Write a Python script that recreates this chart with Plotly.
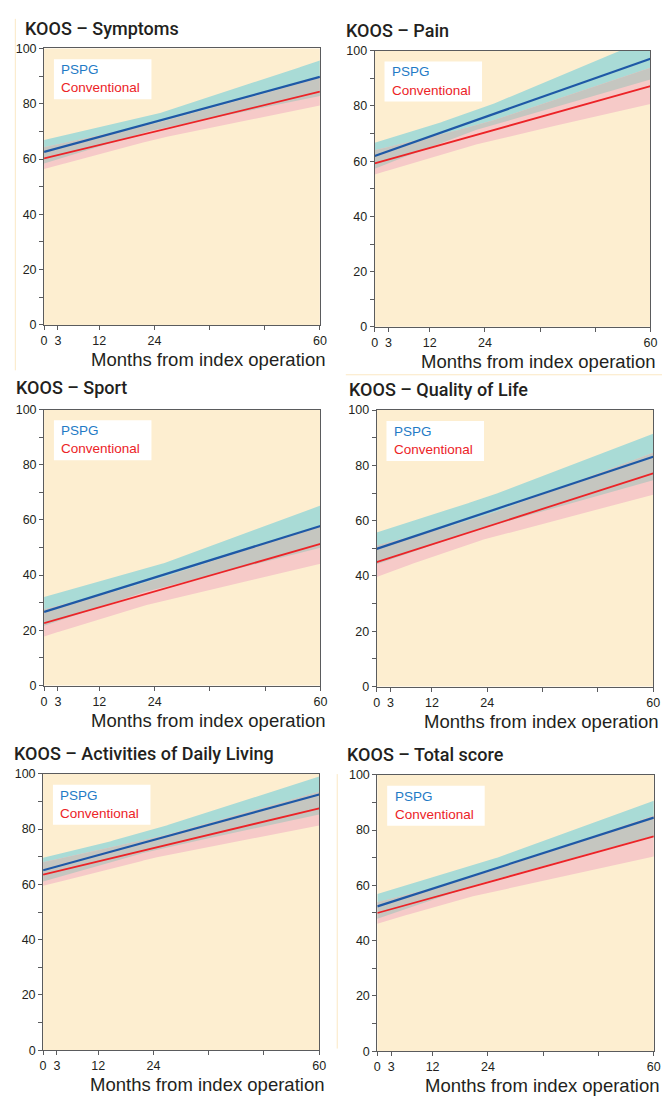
import numpy as np
import plotly.graph_objects as go

W, H = 669, 1098

# ---------------- data ----------------
panel_titles = ["KOOS – Symptoms", "KOOS – Pain", "KOOS – Sport",
                "KOOS – Quality of Life", "KOOS – Activities of Daily Living",
                "KOOS – Total score"]
series_names = ["PSPG", "Conventional"]
x_title = "Months from index operation"

months_line = [0, 60]
months_band = [0, 12, 24, 60]
x_tickvals = [0, 3, 12, 24, 36, 48, 60]
x_ticktext = ["0", "3", "12", "24", "", "", "60"]
y_tickvals = [0, 20, 40, 60, 80, 100]

# Symptoms
symptoms_pspg = [62.6, 89.7]
symptoms_pspg_lo = [58.4, 64.6, 70.6, 82.8]
symptoms_pspg_hi = [66.9, 71.4, 76.0, 95.6]
symptoms_conv = [60.2, 84.4]
symptoms_conv_lo = [56.4, 61.7, 67.1, 79.4]
symptoms_conv_hi = [64.3, 68.4, 72.8, 89.3]
# Pain
pain_pspg = [61.9, 97.1]
pain_pspg_lo = [57.3, 65.1, 72.5, 89.6]
pain_pspg_hi = [66.7, 72.7, 79.5, 104.6]
pain_conv = [59.2, 87.2]
pain_conv_lo = [55.2, 61.0, 67.0, 80.7]
pain_conv_hi = [64.0, 68.6, 73.8, 93.8]
# Sport
sport_pspg = [26.7, 57.8]
sport_pspg_lo = [21.7, 28.3, 35.1, 49.9]
sport_pspg_hi = [32.1, 37.6, 43.1, 65.2]
sport_conv = [22.6, 51.3]
sport_conv_lo = [17.8, 24.1, 30.0, 44.1]
sport_conv_hi = [27.6, 32.5, 38.2, 58.0]
# Quality of Life
qol_pspg = [49.8, 83.1]
qol_pspg_lo = [44.2, 51.0, 58.0, 74.6]
qol_pspg_hi = [55.7, 62.3, 68.5, 91.4]
qol_conv = [45.0, 77.1]
qol_conv_lo = [39.6, 47.0, 53.6, 69.4]
qol_conv_hi = [51.0, 56.0, 62.0, 84.6]
# Activities of Daily Living
adl_pspg = [65.1, 92.5]
adl_pspg_lo = [61.0, 66.8, 72.4, 85.3]
adl_pspg_hi = [69.6, 74.4, 79.8, 99.0]
adl_conv = [63.5, 87.5]
adl_conv_lo = [59.5, 64.3, 69.6, 81.3]
adl_conv_hi = [68.0, 72.3, 76.6, 93.5]
# Total score
total_pspg = [52.4, 84.5]
total_pspg_lo = [47.9, 54.7, 61.6, 77.9]
total_pspg_hi = [56.9, 62.9, 68.8, 90.6]
total_conv = [50.0, 77.7]
total_conv_lo = [46.1, 52.1, 57.5, 70.4]
total_conv_hi = [53.9, 58.9, 64.7, 85.3]

panels = [
    (symptoms_pspg, symptoms_pspg_lo, symptoms_pspg_hi, symptoms_conv, symptoms_conv_lo, symptoms_conv_hi),
    (pain_pspg, pain_pspg_lo, pain_pspg_hi, pain_conv, pain_conv_lo, pain_conv_hi),
    (sport_pspg, sport_pspg_lo, sport_pspg_hi, sport_conv, sport_conv_lo, sport_conv_hi),
    (qol_pspg, qol_pspg_lo, qol_pspg_hi, qol_conv, qol_conv_lo, qol_conv_hi),
    (adl_pspg, adl_pspg_lo, adl_pspg_hi, adl_conv, adl_conv_lo, adl_conv_hi),
    (total_pspg, total_pspg_lo, total_pspg_hi, total_conv, total_conv_lo, total_conv_hi),
]

# ---------------- style ----------------
FONT = "Liberation Sans, Arial, Helvetica, sans-serif"
TFONT = "Roboto, Liberation Sans, Arial, sans-serif"
BG = "#FDEED0"
TEAL = "#A9DBD6"
PINK = "#F6CAC8"
GRAY = "#C5C6C0"
BLUE_LINE = "#1E58A6"
BLUE_TXT = "#1F7BC6"
RED = "#EC2327"
TXT = "#231F20"
AXIS = "#5A5B5D"

# plot areas in pixels (left, right, top, bottom)
areas = [(41.7, 321.7, 42.0, 322.0), (377.3, 657.3, 44.3, 324.0),
         (41.7, 322.3, 407.7, 687.3), (379.3, 660.0, 408.3, 688.3),
         (40.7, 321.0, 776.7, 1056.7), (380.0, 660.7, 777.7, 1057.7)]
title_pos = [(25, 21.7), (350.7, 24), (15.7, 385.7), (354, 387.3), (14.3, 756), (352, 756.7)]


def px(x):
    return x / W


def py(y):
    return 1 - y / H


fig = go.Figure()
grid = np.linspace(0, 60, 241)

for i, (pl, plo, phi, cl, clo, chi) in enumerate(panels):
    k = "" if i == 0 else str(i + 1)
    xa, ya = "x" + k, "y" + k
    plo_g = np.interp(grid, months_band, plo)
    phi_g = np.interp(grid, months_band, phi)
    clo_g = np.interp(grid, months_band, clo)
    chi_g = np.interp(grid, months_band, chi)
    olo = np.maximum(plo_g, clo_g)
    ohi = np.maximum(np.minimum(phi_g, chi_g), olo)
    gx = list(grid) + list(grid[::-1])
    for lo, hi, col in [(plo_g, phi_g, TEAL), (clo_g, chi_g, PINK), (olo, ohi, GRAY)]:
        fig.add_trace(go.Scatter(x=gx, y=list(hi) + list(lo[::-1]), fill="toself",
                                 fillcolor=col, line=dict(width=0), mode="lines",
                                 hoverinfo="skip", showlegend=False, xaxis=xa, yaxis=ya))
    fig.add_trace(go.Scatter(x=months_line, y=cl, mode="lines", line=dict(color=RED, width=1.8),
                             name=series_names[1], showlegend=False, xaxis=xa, yaxis=ya))
    fig.add_trace(go.Scatter(x=months_line, y=pl, mode="lines", line=dict(color=BLUE_LINE, width=2.2),
                             name=series_names[0], showlegend=False, xaxis=xa, yaxis=ya))

    l, r, t, b = areas[i]
    common = dict(showline=True, linecolor=AXIS, linewidth=1, mirror=True, showgrid=False,
                  zeroline=False, ticks="outside", ticklen=4, tickwidth=1, tickcolor=AXIS,
                  tickfont=dict(family=FONT, size=12.5, color=TXT))
    fig.layout["xaxis" + k] = dict(domain=[px(l), px(r)], range=[0, 60], anchor=ya,
                                   tickvals=x_tickvals, ticktext=x_ticktext, **common)
    fig.layout["yaxis" + k] = dict(domain=[py(b), py(t)], range=[0, 100], anchor=xa,
                                   tickvals=y_tickvals,
                                   minor=dict(tickvals=[10, 30, 50, 70, 90], ticks="outside",
                                              ticklen=4, tickcolor=AXIS),
                                   **common)
    # panel title
    tx, ty = title_pos[i]
    fig.add_annotation(text=panel_titles[i], x=px(tx - 5), y=py(ty), xref="paper", yref="paper",
                       xanchor="left", yanchor="middle", showarrow=False,
                       font=dict(family=TFONT, size=18, color=TXT, weight=500))
    # x axis title
    fig.add_annotation(text=x_title, x=px(r + 7), y=py(b + 35), xref="paper", yref="paper",
                       xanchor="right", yanchor="middle", showarrow=False,
                       font=dict(family=FONT, size=18.5, color=TXT))
    # legend box
    fig.add_shape(type="rect", xref="paper", yref="paper", x0=px(l + 10), x1=px(l + 109),
                  y0=py(t + 51.5), y1=py(t + 11), fillcolor="white", line=dict(width=0), layer="above")
    fig.add_annotation(text=series_names[0], x=px(l + 15.5), y=py(t + 21.5), xref="paper", yref="paper",
                       xanchor="left", yanchor="middle", showarrow=False,
                       font=dict(family=FONT, size=13.5, color=BLUE_TXT))
    fig.add_annotation(text=series_names[1], x=px(l + 15.5), y=py(t + 40), xref="paper", yref="paper",
                       xanchor="left", yanchor="middle", showarrow=False,
                       font=dict(family=FONT, size=13.5, color=RED))
    # plot background
    fig.add_shape(type="rect", xref="paper", yref="paper", x0=px(l), x1=px(r), y0=py(b), y1=py(t),
                  fillcolor=BG, line=dict(width=0), layer="below")

# faint page rules
for (x0, y0, x1, y1) in [(12.5, 12, 12.5, 368), (348, 372.5, 669, 372.5), (339.3, 777, 339.3, 1055)]:
    fig.add_shape(type="line", xref="paper", yref="paper", x0=px(x0), x1=px(x1), y0=py(y0), y1=py(y1),
                  line=dict(color="#FBE8C4", width=1))

fig.update_layout(width=W, height=H, autosize=False, margin=dict(l=0, r=0, t=0, b=0),
                  paper_bgcolor="white", plot_bgcolor="rgba(0,0,0,0)", showlegend=False,
                  font=dict(family=FONT, color=TXT))

fig.write_html("out.html", config={"displayModeBar": False},
               post_script="document.body.style.margin='0';document.body.style.overflow='hidden';")
